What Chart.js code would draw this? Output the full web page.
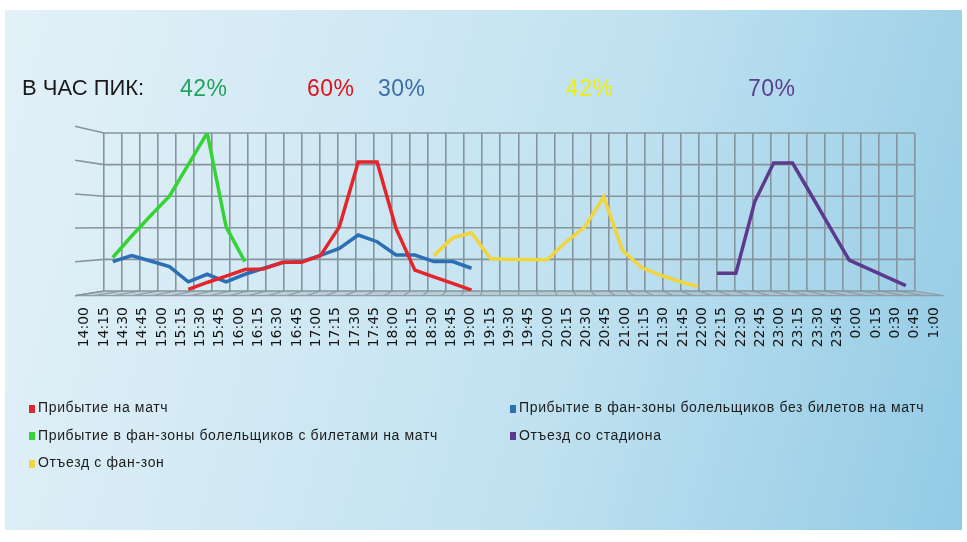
<!DOCTYPE html>
<html>
<head>
<meta charset="utf-8">
<script src="https://cdn.jsdelivr.net/npm/chart.js@4.4.1/dist/chart.umd.min.js"></script>
<style>
  html, body { margin: 0; padding: 0; background: #ffffff; }
  body { width: 967px; height: 542px; position: relative; overflow: hidden;
         font-family: "Liberation Sans", Arial, sans-serif; }
  #panel { position: absolute; left: 5px; top: 10px; width: 957px; height: 520px;
           background: linear-gradient(105deg, #e3f1f8 0%, #d3eaf4 30%, #bfe1f0 60%, #a3d3e9 85%, #92cbe5 100%); }
  #chart { position: absolute; left: 0; top: 0; }
  #peaks { position: absolute; left: 0; top: 74px; width: 967px; height: 30px; }
  #peaks span { position: absolute; top: 0; font-size: 23px; line-height: 28px; white-space: nowrap; letter-spacing: 0.5px; }
  #peaks span.cap { font-size: 22px; letter-spacing: 0; }
  #legend { position: absolute; left: 29px; top: 394px; display: grid;
            grid-template-columns: 481px auto; }
  #legend .item { height: 27.5px; line-height: 27.5px; font-size: 14px; letter-spacing: 0.65px;
                  color: #1c1c1c; white-space: nowrap; }
  #legend .box { display: inline-block; width: 6px; height: 8px; margin-right: 3px; vertical-align: -0.5px; }
</style>
</head>
<body>
<div id="panel"></div>
<canvas id="chart" width="967" height="542"></canvas>
<div id="peaks"></div>
<div id="legend"></div>
<script>
// Time slots along the horizontal axis (15-minute steps, 14:00 to 1:00)
const timeLabels = [
  '14:00','14:15','14:30','14:45','15:00','15:15','15:30','15:45','16:00','16:15',
  '16:30','16:45','17:00','17:15','17:30','17:45','18:00','18:15','18:30','18:45',
  '19:00','19:15','19:30','19:45','20:00','20:15','20:30','20:45','21:00','21:15',
  '21:30','21:45','22:00','22:15','22:30','22:45','23:00','23:15','23:30','23:45',
  '0:00','0:15','0:30','0:45','1:00'
];

// Flow intensity per slot (null = no flow in that slot)
const arrivalMatch = [
  null, null, null, null, null, 0.05, 0.27, 0.47, 0.68, 0.70,
  0.91, 0.91, 1.12, 2.03, 4.08, 4.08, 1.98, 0.66, 0.45, 0.24,
  0.03, null, null, null, null, null, null, null, null, null,
  null, null, null, null, null, null, null, null, null, null,
  null, null, null, null, null
];
const fanZoneNoTicket = [
  null, 0.93, 1.12, 0.95, 0.77, 0.29, 0.53, 0.29, 0.53, 0.72,
  0.90, 0.93, 1.13, 1.35, 1.77, 1.56, 1.14, 1.14, 0.93, 0.93,
  0.72, null, null, null, null, null, null, null, null, null,
  null, null, null, null, null, null, null, null, null, null,
  null, null, null, null, null
];
const fanZoneTicket = [
  null, 1.06, 1.74, 2.38, 3.00, 4.00, 5.00, 2.03, 0.93, null,
  null, null, null, null, null, null, null, null, null, null,
  null, null, null, null, null, null, null, null, null, null,
  null, null, null, null, null, null, null, null, null, null,
  null, null, null, null, null
];
const stadiumDeparture = [
  null, null, null, null, null, null, null, null, null, null,
  null, null, null, null, null, null, null, null, null, null,
  null, null, null, null, null, null, null, null, null, null,
  null, null, null, 0.56, 0.56, 2.83, 4.05, 4.05, 3.03, 2.00,
  0.98, 0.71, 0.44, 0.17, null
];
const fanZoneDeparture = [
  null, null, null, null, null, null, null, null, null, null,
  null, null, null, null, null, null, null, null, 1.12, 1.68,
  1.84, 1.03, 1.00, 1.00, 0.99, 1.55, 2.03, 2.98, 1.28, 0.74,
  0.50, 0.30, 0.14, null, null, null, null, null, null, null,
  null, null, null, null, null
];

const seriesNames = [
  'Прибытие на матч',
  'Прибытие в фан-зоны болельщиков без билетов на матч',
  'Прибытие в фан-зоны болельщиков с билетами на матч',
  'Отъезд со стадиона',
  'Отъезд с фан-зон'
];
const seriesColors = ['#e3262b', '#2c6fb4', '#35d435', '#5c3b8e', '#f1d53c'];

// Peak-hour shares shown in the header row
const peakCaption = 'В ЧАС ПИК:';
const peakShares = ['42%', '60%', '30%', '42%', '70%'];
const peakColors = ['#22a35c', '#e0121e', '#3b6da6', '#eeee10', '#5a3e90'];
const peakLeft = [180, 307, 378, 566, 748];

const wallLevels = 5;          // horizontal divisions of the back wall
const wallColumns = 45;        // vertical divisions of the back wall
const wallInset = 1.615;       // perspective inset of the back wall, in columns
const vanishLevel = 2.06;      // height of the vanishing point, in wall levels

const toPoints = arr => arr.map((v, i) => ({ x: i, y: v }));
const seriesData = [arrivalMatch, fanZoneNoTicket, fanZoneTicket, stadiumDeparture, fanZoneDeparture];

// Back wall, side edges and floor of the 3-D box
const wallPlugin = {
  id: 'wall3d',
  beforeDatasetsDraw(chart) {
    const { ctx, chartArea, scales: { xg, y } } = chart;
    const xl = xg.getPixelForValue(0);
    const xr = xg.getPixelForValue(wallColumns);
    const K = (chartArea.right - chartArea.left) / (xr - xl);
    const cx = (chartArea.left + chartArea.right) / 2;
    const cy = y.getPixelForValue(vanishLevel);
    const proj = (px, py) => [cx + K * (px - cx), cy + K * (py - cy)];
    const yb = y.getPixelForValue(0);
    ctx.save();
    // floor
    const [fl, fy] = proj(xl, yb);
    const [fr] = proj(xr, yb);
    ctx.beginPath();
    ctx.moveTo(xl, yb); ctx.lineTo(xr, yb); ctx.lineTo(fr, fy); ctx.lineTo(fl, fy); ctx.closePath();
    ctx.fillStyle = 'rgba(160,172,180,0.45)';
    ctx.fill();
    ctx.strokeStyle = '#8f9da6';
    ctx.lineWidth = 1.2;
    for (let k = 0; k <= wallColumns; k++) {
      const px = xg.getPixelForValue(k);
      const [qx, qy] = proj(px, yb);
      ctx.beginPath(); ctx.moveTo(px, yb); ctx.lineTo(qx, qy); ctx.stroke();
    }
    ctx.beginPath(); ctx.moveTo(fl, fy); ctx.lineTo(fr, fy); ctx.stroke();
    // horizontal wall lines and left side edges
    ctx.strokeStyle = '#85949d';
    ctx.lineWidth = 1.6;
    for (let j = 0; j <= wallLevels; j++) {
      const py = y.getPixelForValue(j);
      ctx.beginPath(); ctx.moveTo(xl, py); ctx.lineTo(xr, py); ctx.stroke();
      const [sx, sy] = proj(xl, py);
      ctx.beginPath(); ctx.moveTo(xl, py); ctx.lineTo(sx, sy); ctx.stroke();
    }
    ctx.restore();
  }
};

const chart = new Chart(document.getElementById('chart'), {
  type: 'line',
  data: {
    labels: timeLabels,
    datasets: seriesData.map((arr, i) => ({
      label: seriesNames[i],
      data: toPoints(arr),
      borderColor: seriesColors[i],
      backgroundColor: seriesColors[i],
      borderWidth: 3.5,
      pointRadius: 0,
      tension: 0,
      spanGaps: false,
      xAxisID: 'xd',
      yAxisID: 'y'
    }))
  },
  plugins: [wallPlugin],
  options: {
    responsive: false,
    animation: false,
    events: [],
    layout: { padding: { left: 75, right: 22, top: 133, bottom: 181 } },
    plugins: { legend: { display: false }, tooltip: { enabled: false } },
    scales: {
      x: {
        type: 'category',
        position: 'bottom',
        offset: true,
        grid: { display: false, drawTicks: false },
        border: { display: false },
        ticks: {
          autoSkip: false, minRotation: 90, maxRotation: 90, padding: 16,
          color: '#141414', font: { family: 'DejaVu Sans', size: 14 }
        },
        afterFit: axis => { axis.height = 70; }
      },
      xd: { type: 'linear', display: false, min: -1, max: 45 },
      xg: {
        type: 'linear', position: 'bottom',
        min: -wallInset, max: wallColumns + wallInset,
        afterBuildTicks: axis => {
          axis.ticks = Array.from({ length: wallColumns + 1 }, (_, k) => ({ value: k }));
        },
        grid: { color: '#85949d', lineWidth: 1.6, drawTicks: false },
        border: { display: false },
        ticks: { display: false }
      },
      y: { type: 'linear', display: false, min: 0, max: wallLevels }
    }
  }
});

// header row
const peaks = document.getElementById('peaks');
const cap = document.createElement('span');
cap.className = 'cap';
cap.textContent = peakCaption;
cap.style.left = '22px';
cap.style.color = '#1a1a1a';
peaks.appendChild(cap);
peakShares.forEach((t, i) => {
  const s = document.createElement('span');
  s.textContent = t;
  s.style.left = peakLeft[i] + 'px';
  s.style.color = peakColors[i];
  peaks.appendChild(s);
});

// legend built from the chart's datasets
const legend = document.getElementById('legend');
chart.data.datasets.forEach(ds => {
  const item = document.createElement('div');
  item.className = 'item';
  const box = document.createElement('span');
  box.className = 'box';
  box.style.background = ds.borderColor;
  item.appendChild(box);
  item.appendChild(document.createTextNode(ds.label));
  legend.appendChild(item);
});
</script>
</body>
</html>
